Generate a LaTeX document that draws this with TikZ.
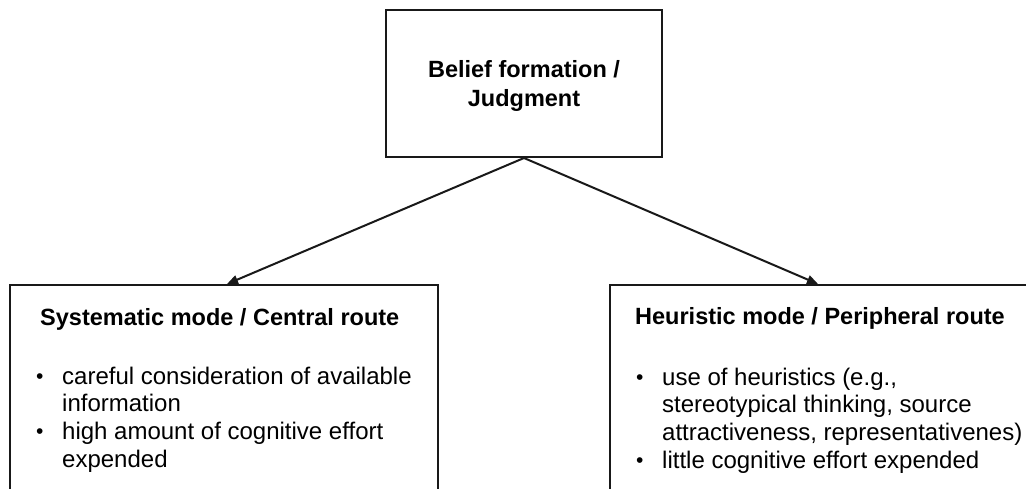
\documentclass[tikz,border=0pt]{standalone}
\usepackage{fontspec}
\setmainfont{Liberation Sans}
\usetikzlibrary{arrows.meta}
\newcommand\mybullet{\makebox[24.5pt][l]{\hspace*{-1.5pt}\raisebox{1pt}{\fontsize{21}{21}\selectfont\textbullet}}}
\tikzset{
  boxstyle/.style={draw=black!90, line width=2pt, rectangle, inner sep=0pt},
  titlestyle/.style={anchor=base west, inner sep=0pt, font=\fontsize{23.5}{28}\selectfont\bfseries},
  liststyle/.style={anchor=base west, inner sep=0pt, font=\fontsize{24}{27.8}\selectfont},
  link/.style={draw=black!90, line width=2pt, -{Triangle[length=11pt,width=9pt]}}
}
\begin{document}
\begin{tikzpicture}[x=1pt,y=-1pt]
\useasboundingbox (0,0) rectangle (1026,489);
\clip (0,0) rectangle (1026,489);
\node[boxstyle, minimum width=276pt, minimum height=147pt, align=center,
      font=\fontsize{23.5}{29}\selectfont\bfseries] (top) at (524,83.5) {\rule{0pt}{21.5pt}Belief formation /\\Judgment};
\node[boxstyle, minimum width=428pt, minimum height=260pt] (sys) at (224,415) {};
\node[boxstyle, minimum width=428pt, minimum height=260pt] (heu) at (824,415) {};
\node[titlestyle] (systitle) at (40,325) {Systematic mode / Central route};
\node[titlestyle] (heutitle) at (635,324) {Heuristic mode / Peripheral route};
\node[liststyle] (syslist) at (37.5,384) {\begin{tabular}[t]{@{}l@{}l@{}}
  \mybullet & careful consideration of available\\
            & information\\
  \mybullet & high amount of cognitive effort\\
            & expended
\end{tabular}};
\node[liststyle] (heulist) at (637.5,385) {\begin{tabular}[t]{@{}l@{}l@{}}
  \mybullet & use of heuristics (e.g.,\\
            & stereotypical thinking, source\\
            & attractiveness, representativenes)\\
  \mybullet & little cognitive effort expended
\end{tabular}};
\draw[link] (top.south) -- ([xshift=3pt]sys.north);
\draw[link] (top.south) -- ([xshift=-6pt]heu.north);
\end{tikzpicture}
\end{document}
